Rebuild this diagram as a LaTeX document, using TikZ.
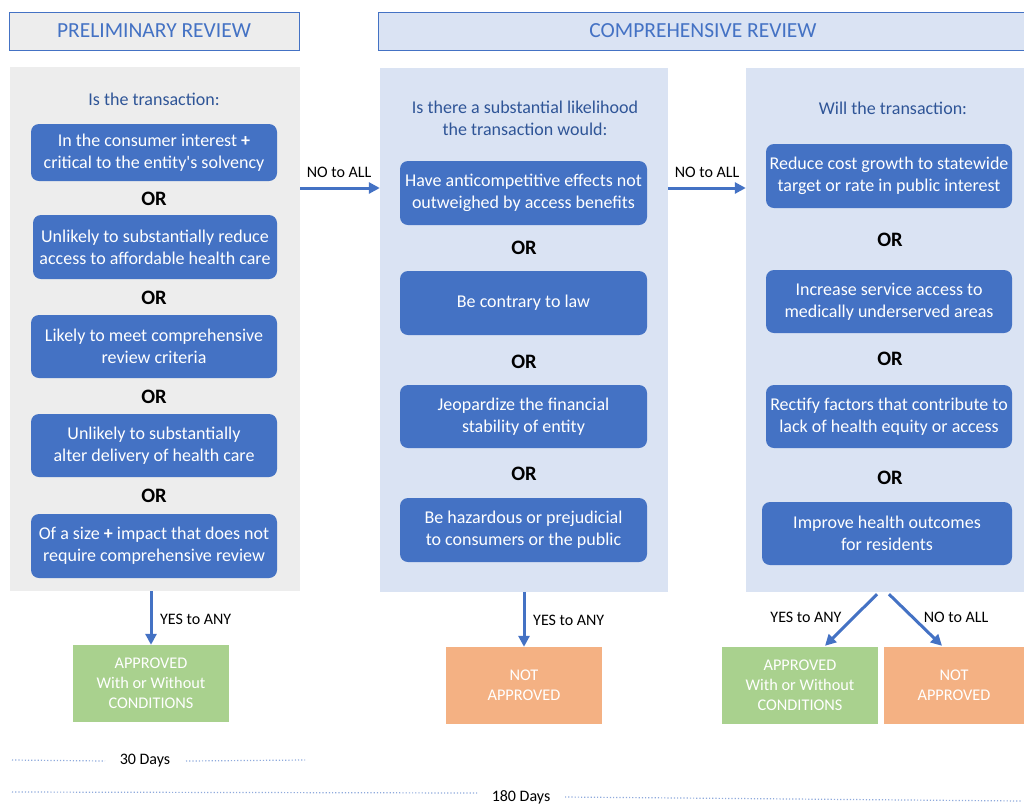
\documentclass[tikz,border=0pt]{standalone}
\usepackage{fontspec}
\setmainfont{Carlito}
\usetikzlibrary{arrows.meta}
\definecolor{boxblue}{HTML}{4472C4}
\definecolor{panblue}{HTML}{DAE3F3}
\definecolor{pangray}{HTML}{EDEDED}
\definecolor{titblue}{HTML}{2F5597}
\definecolor{okgreen}{HTML}{A9D18E}
\definecolor{noorange}{HTML}{F4B183}
\definecolor{dotblue}{HTML}{8FAADC}
\tikzset{
  hdr/.style={draw=boxblue, line width=1pt, text=boxblue, font=\fontsize{21.5}{24}\selectfont, inner sep=0},
  panel/.style={inner sep=0},
  ptitle/.style={text=titblue, align=center, font=\fontsize{18}{22}\selectfont, inner sep=0},
  bx/.style={rounded corners=8pt, fill=boxblue, text=white, align=center, font=\fontsize{18}{22}\selectfont, inner sep=0},
  ortxt/.style={font=\bfseries\fontsize{20.5}{22}\selectfont, inner sep=0},
  res/.style={text=white, align=center, font=\fontsize{16.3}{20}\selectfont, inner sep=0},
  lbl/.style={font=\fontsize{16}{18}\selectfont, inner sep=0},
  arr/.style={draw=boxblue, line width=3pt, -{Triangle[length=11pt,width=11pt]}},
  tl/.style={draw=dotblue, line width=1.2pt, dotted},
}
\begin{document}
\begin{tikzpicture}[x=1pt,y=-1pt]
\useasboundingbox (0,0) rectangle (1024,804);
% headers
\node[hdr, fill=pangray, minimum width=290pt, minimum height=38pt] (h1) at (154,31) {PRELIMINARY REVIEW};
\node[hdr, fill=panblue, minimum width=650pt, minimum height=38pt, anchor=west] (h2) at (378,31) {};
\node[text=boxblue, font=\fontsize{21.5}{24}\selectfont, inner sep=0] (h2t) at (703,31) {COMPREHENSIVE REVIEW};
% panels
\node[panel, fill=pangray, minimum width=290pt, minimum height=524pt] (pan1) at (155,329) {};
\node[panel, fill=panblue, minimum width=288pt, minimum height=524pt] (pan2) at (524,330) {};
\node[panel, fill=panblue, minimum width=278pt, minimum height=524pt] (pan3) at (885,330) {};
% panel 1
\node[ptitle] (t1) at (154,99) {Is the transaction:};
\node[bx, minimum width=246pt, minimum height=57pt] (a1) at (154,152.5) {In the consumer interest \textbf{+}\\critical to the entity\textquotesingle s solvency};
\node[ortxt] (o11) at (154,199) {OR};
\node[bx, minimum width=244pt, minimum height=64pt] (a2) at (155,247) {Unlikely to substantially reduce\\access to affordable health care};
\node[ortxt] (o12) at (154,298) {OR};
\node[bx, minimum width=246pt, minimum height=63pt] (a3) at (154,346.5) {Likely to meet comprehensive\\review criteria};
\node[ortxt] (o13) at (154,397) {OR};
\node[bx, minimum width=246pt, minimum height=63pt] (a4) at (154,445.5) {Unlikely to substantially\\alter delivery of health care};
\node[ortxt] (o14) at (154,496) {OR};
\node[bx, minimum width=246pt, minimum height=64pt] (a5) at (154,546) {Of a size \textbf{+} impact that does not\\require comprehensive review};
% panel 2
\node[ptitle] (t2) at (525,118) {Is there a substantial likelihood\\the transaction would:};
\node[bx, minimum width=247pt, minimum height=64pt] (b1) at (523.5,193) {Have anticompetitive effects not\\outweighed by access benefits};
\node[ortxt] (o21) at (524,248) {OR};
\node[bx, minimum width=247pt, minimum height=64pt] (b2) at (523.5,303) {Be contrary to law};
\node[ortxt] (o22) at (524,362) {OR};
\node[bx, minimum width=247pt, minimum height=63pt] (b3) at (523.5,416.5) {Jeopardize the financial\\stability of entity};
\node[ortxt] (o23) at (524,474) {OR};
\node[bx, minimum width=247pt, minimum height=64pt] (b4) at (523.5,530) {Be hazardous or prejudicial\\to consumers or the public};
% panel 3
\node[ptitle] (t3) at (893,108) {Will the transaction:};
\node[bx, minimum width=246pt, minimum height=64pt] (c1) at (889,176) {Reduce cost growth to statewide\\target or rate in public interest};
\node[ortxt] (o31) at (890,240) {OR};
\node[bx, minimum width=246pt, minimum height=63pt] (c2) at (889,301.5) {Increase service access to\\medically underserved areas};
\node[ortxt] (o32) at (890,359) {OR};
\node[bx, minimum width=246pt, minimum height=63pt] (c3) at (889,416.5) {Rectify factors that contribute to\\lack of health equity or access};
\node[ortxt] (o33) at (890,478) {OR};
\node[bx, minimum width=250pt, minimum height=63pt] (c4) at (887,533.5) {Improve health outcomes\\for residents};
% results
\node[res, fill=okgreen, minimum width=156pt, minimum height=77pt] (ap1) at (151,683.5) {APPROVED\\With or Without\\CONDITIONS};
\node[res, fill=noorange, minimum width=156pt, minimum height=77pt] (na1) at (524,685.5) {NOT\\APPROVED};
\node[res, fill=okgreen, minimum width=156pt, minimum height=77pt] (ap2) at (800,685.5) {APPROVED\\With or Without\\CONDITIONS};
\node[res, fill=noorange, minimum width=140pt, minimum height=77pt] (na2) at (954,685.5) {NOT\\APPROVED};
% arrows
\draw[arr] ([yshift=141pt]pan1.east) -- ([yshift=142pt]pan2.west);
\node[lbl] (l1) at (339,172) {NO to ALL};
\draw[arr] ([yshift=142pt]pan2.east) -- ([yshift=142pt]pan3.west);
\node[lbl] (l2) at (707,172) {NO to ALL};
\draw[arr] (ap1.north |- pan1.south) -- (ap1.north);
\node[lbl, anchor=west] (l3) at (160,619) {YES to ANY};
\draw[arr] (na1.north |- pan2.south) -- (na1.north);
\node[lbl, anchor=west] (l4) at (533,620) {YES to ANY};
\draw[arr] ([xshift=-8pt,yshift=-2pt]pan3.south) -- ([xshift=25pt,yshift=1pt]ap2.north);
\node[lbl] (l5) at (806,617) {YES to ANY};
\draw[arr] ([xshift=4pt,yshift=-2pt]pan3.south) -- ([xshift=-12pt,yshift=1pt]na2.north);
\node[lbl] (l6) at (956,617) {NO to ALL};
% timeline
\node[lbl] (d30) at (145,761) {30 Days};
\coordinate (d30a) at (12,760);
\coordinate (d30b) at (305,760);
\draw[tl] (d30a) -- (d30.west -| 105,0);
\draw[tl] (d30.east -| 186,0) -- (d30b);
\node[lbl] (d180) at (521,797) {180 Days};
\coordinate (d180a) at (12,792);
\coordinate (d180b) at (1022,801);
\draw[tl] (d180a) -- (478,793);
\draw[tl] (565,797) -- (d180b);
\end{tikzpicture}
\end{document}
